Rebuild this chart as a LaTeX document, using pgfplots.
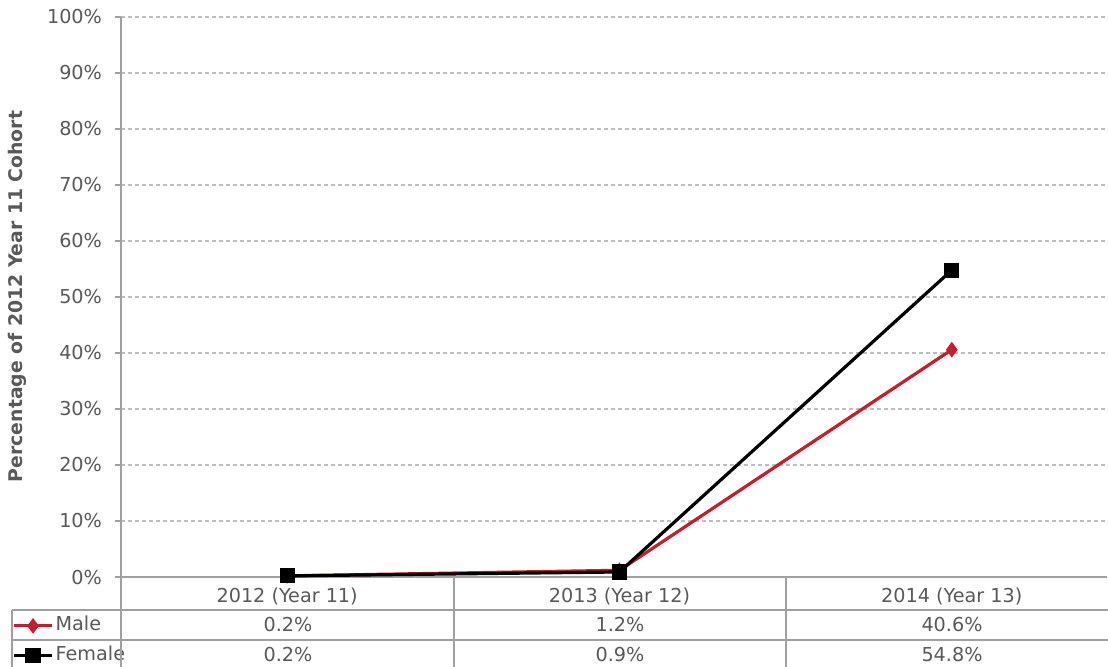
\documentclass[border=0pt]{standalone}
\usepackage{fontspec}
\setmainfont{DejaVu Sans}
\usepackage{pgfplots}
\pgfplotsset{compat=1.18}
\definecolor{malered}{RGB}{192, 32, 48}
\definecolor{txtgray}{RGB}{89, 89, 89}
\definecolor{linegray}{RGB}{160, 160, 160}
\definecolor{gridgray}{RGB}{190, 190, 190}

\begin{document}
\begin{tikzpicture}
\begin{axis}[
  name              = ax,
  scale only axis,
  width             = 493pt,
  height            = 280pt,
  xmin=-0.5, xmax=2.467,
  ymin=0, ymax=100,
  ytick             = {0,10,...,100},
  yticklabel        = {\pgfmathprintnumber{\tick}\%},
  yticklabel style  = {font=\fontsize{9.6}{11}\selectfont, text=txtgray, xshift=-3pt},
  xtick             = data,
  xticklabels       = {2012 (Year 11), 2013 (Year 12), 2014 (Year 13)},
  xticklabel style  = {font=\fontsize{9.6}{11}\selectfont, text=txtgray, anchor=center, yshift=-6.5pt},
  /pgf/number format/assume math mode=true,
  axis x line*      = bottom,
  axis y line*      = left,
  axis line style   = {draw=linegray, line width=1pt, -},
  tick align        = outside,
  major tick length = 3pt,
  ytick style       = {draw=linegray, line width=0.8pt},
  xtick style       = {draw=none},
  ymajorgrids,
  grid style        = {draw=gridgray, line width=0.6pt, dash pattern=on 2pt off 1.5pt},
  ylabel            = {\bfseries Percentage of 2012 Year 11 Cohort},
  ylabel style      = {font=\fontsize{9.4}{11}\selectfont, text=txtgray,
                       at={(rel axis cs:-0.1055,0.501)}, anchor=center},
  clip              = false,
  legend style      = {at={(rel axis cs:-0.1105,-0.0723)}, anchor=north west,
                       draw=none, fill=none, inner sep=0pt, row sep=7pt,
                       font=\fontsize{9.6}{11}\selectfont, text=txtgray,
                       nodes={inner sep=0pt, text height=6.5pt, text depth=1.5pt},
                       /tikz/every odd column/.style={column sep=1pt}},
  legend cell align = left,
  legend image code/.code={\draw[mark repeat=2, mark phase=2, #1]
    plot coordinates {(0pt,0pt) (9.5pt,0pt) (19pt,0pt)};},
]
\addplot[malered, line width=1.6pt, mark=diamond*, mark size=2.6pt,
         mark options={solid}]
  coordinates {(0,0.2) (1,1.2) (2,40.6)};
\addplot[black, line width=1.6pt, mark=square*, mark size=3pt,
         mark options={solid}]
  coordinates {(0,0.2) (1,0.9) (2,54.8)};
\legend{Male, Female}
\end{axis}
\begin{scope}[shift={(ax.south west)}]
\begin{scope}[x=0.5pt, y=-0.5pt, shift={(-121,-577)}]
  % data table grid
  \draw[linegray, line width=1pt] (121,577) -- (121,672);
  \draw[linegray, line width=1pt] (454,577) -- (454,672);
  \draw[linegray, line width=1pt] (786,577) -- (786,672);
  \draw[linegray, line width=1pt] (12,610) -- (1108,610);
  \draw[linegray, line width=1pt] (12,640) -- (1108,640);
  \draw[linegray, line width=1pt] (12,610) -- (12,672);
  \begin{scope}[every node/.style={font=\fontsize{9.6}{11}\selectfont, text=txtgray,
      inner sep=0pt, text height=6.5pt, text depth=1.5pt}]
    \node at (288,626) {0.2\%};
    \node at (620,626) {1.2\%};
    \node at (952,626) {40.6\%};
    \node at (288,656) {0.2\%};
    \node at (620,656) {0.9\%};
    \node at (952,656) {54.8\%};
  \end{scope}
  \pgfresetboundingbox
  \path[use as bounding box] (0,0) rectangle (1108,666);
\end{scope}
\end{scope}
\end{tikzpicture}
\end{document}
